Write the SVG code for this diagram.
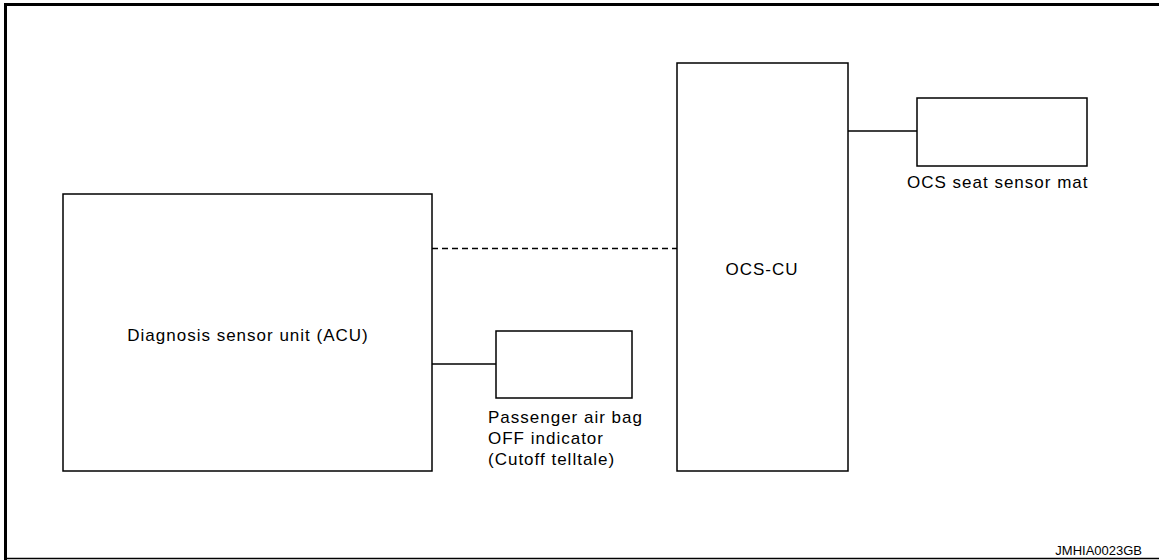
<svg xmlns="http://www.w3.org/2000/svg" width="1159" height="560" viewBox="0 0 1159 560">
<style>
.box{fill:#fff;stroke:#000;stroke-width:1.5}
.wire{stroke:#000;stroke-width:1.3;fill:none}
.dash{stroke:#000;stroke-width:1.3;fill:none;stroke-dasharray:6,4}
text{font-family:"Liberation Sans",Arial,sans-serif;font-size:17px;fill:#000;letter-spacing:1px}
.id{font-size:13px;letter-spacing:0}
</style>
<rect width="1159" height="560" fill="#fff"/>
<g id="frame">
<line x1="4" y1="4.5" x2="1159" y2="4.5" stroke="#000" stroke-width="3"/>
<line x1="5.5" y1="3" x2="5.5" y2="560" stroke="#000" stroke-width="3"/>
<line x1="4" y1="558.5" x2="1159" y2="558.5" stroke="#000" stroke-width="1.5"/>
</g>
<g id="connectors">
<line class="dash" x1="432" y1="248.5" x2="677" y2="248.5"/>
<line class="wire" x1="432" y1="364" x2="496" y2="364"/>
<line class="wire" x1="848" y1="131" x2="917" y2="131"/>
</g>
<g id="acu">
<rect class="box" x="63" y="194" width="369" height="277"/>
<text x="248" y="341" text-anchor="middle">Diagnosis sensor unit (ACU)</text>
</g>
<g id="ocs-cu">
<rect class="box" x="677" y="63" width="171" height="408"/>
<text x="762" y="275" text-anchor="middle">OCS-CU</text>
</g>
<g id="ocs-mat">
<rect class="box" x="917" y="98" width="170" height="68"/>
<text x="907" y="188">OCS seat sensor mat</text>
</g>
<g id="passenger-indicator">
<rect class="box" x="496" y="331" width="136" height="67"/>
<text x="488" y="423">
<tspan x="488" dy="0">Passenger air bag</tspan>
<tspan x="488" dy="21">OFF indicator</tspan>
<tspan x="488" dy="21">(Cutoff telltale)</tspan>
</text>
</g>
<text class="id" x="1142" y="555" text-anchor="end">JMHIA0023GB</text>
</svg>
